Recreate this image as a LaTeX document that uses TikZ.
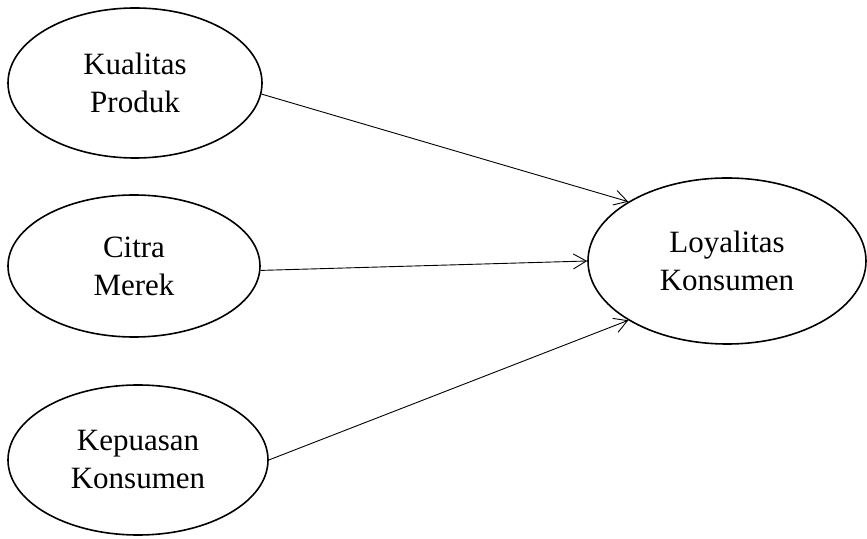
\documentclass[tikz,border=0pt]{standalone}
\usepackage{fontspec}
\setmainfont{Liberation Serif}
\usetikzlibrary{shapes.geometric,arrows.meta}
\begin{document}
\begin{tikzpicture}[x=1pt,y=1pt,
  var/.style={draw,ellipse,line width=1.6pt,inner sep=0pt,align=center,
    font=\fontsize{31}{38}\selectfont},
  link/.style={line width=0.9pt,-{Straight Barb[length=13pt,width=15pt,line width=0.9pt]}}]
\useasboundingbox (0,0) rectangle (867,538);
\node[var,minimum width=254pt,minimum height=150pt] (kp) at (135,455) {Kualitas\\Produk};
\node[var,minimum width=252pt,minimum height=142pt] (cm) at (134,272) {Citra\\Merek};
\node[var,minimum width=260pt,minimum height=150pt] (kk) at (138,78) {Kepuasan\\Konsumen};
\node[var,minimum width=278pt,minimum height=166pt] (lk) at (727,277) {Loyalitas\\Konsumen};
\draw[link] (kp.-5) -- (lk.149);
\draw[link] (cm.-2) -- (lk.180);
\draw[link] (kk.0) -- (lk.211);
\end{tikzpicture}
\end{document}
